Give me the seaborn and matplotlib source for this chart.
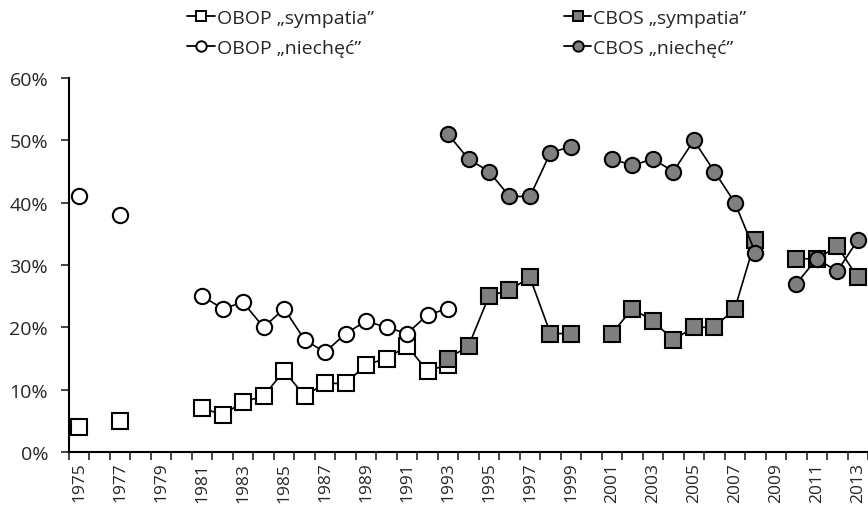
import numpy as np
import pandas as pd
import matplotlib
matplotlib.use("Agg")
import matplotlib.pyplot as plt
from matplotlib.lines import Line2D
from matplotlib.ticker import FuncFormatter, FixedLocator
import seaborn as sns

years = list(range(1975, 2014))

obop_sympatia = {1975: 4, 1977: 5, 1981: 7, 1982: 6, 1983: 8, 1984: 9, 1985: 13, 1986: 9,
                 1987: 11, 1988: 11, 1989: 14, 1990: 15, 1991: 17, 1992: 13, 1993: 14}
obop_niechec = {1975: 41, 1977: 38, 1981: 25, 1982: 23, 1983: 24, 1984: 20, 1985: 23, 1986: 18,
                1987: 16, 1988: 19, 1989: 21, 1990: 20, 1991: 19, 1992: 22, 1993: 23}
cbos_sympatia = {1993: 15, 1994: 17, 1995: 25, 1996: 26, 1997: 28, 1998: 19, 1999: 19,
                 2001: 19, 2002: 23, 2003: 21, 2004: 18, 2005: 20, 2006: 20, 2007: 23, 2008: 34,
                 2010: 31, 2011: 31, 2012: 33, 2013: 28}
cbos_niechec = {1993: 51, 1994: 47, 1995: 45, 1996: 41, 1997: 41, 1998: 48, 1999: 49,
                2001: 47, 2002: 46, 2003: 47, 2004: 45, 2005: 50, 2006: 45, 2007: 40, 2008: 32,
                2010: 27, 2011: 31, 2012: 29, 2013: 34}

series_labels = ["OBOP \u201esympatia\u201d", "OBOP \u201eniech\u0119\u0107\u201d",
                 "CBOS \u201esympatia\u201d", "CBOS \u201eniech\u0119\u0107\u201d"]
series_data = [obop_sympatia, obop_niechec, cbos_sympatia, cbos_niechec]
series_markers = ["s", "o", "s", "o"]
series_fill = ["white", "white", "#7f7f7f", "#7f7f7f"]

tick_years = list(range(1975, 2014, 2))


def to_frame(d):
    rows = []
    seg = 0
    prev = None
    for y in years:
        if y in d:
            if prev is None or y != prev + 1:
                seg += 1
            rows.append({"year": y, "value": d[y] / 100.0, "segment": seg})
            prev = y
    return pd.DataFrame(rows)


sns.set_style("white")
plt.rcParams["font.family"] = ["Open Sans", "DejaVu Sans"]

fig = plt.figure(figsize=(8.68, 5.10), dpi=100)
ax = fig.add_axes([69 / 868, 1 - 453 / 510, 1 - 69 / 868, (453 - 79) / 510])

handles = []
for lab, d, m, fc in zip(series_labels, series_data, series_markers, series_fill):
    df = to_frame(d)
    sns.lineplot(data=df, x="year", y="value", units="segment", estimator=None,
                 ax=ax, color="black", linewidth=1.2, marker=m, markersize=11,
                 markerfacecolor=fc, markeredgecolor="black", markeredgewidth=1.5,
                 legend=False, clip_on=False, zorder=3)
    handles.append(Line2D([0], [0], color="black", linewidth=1.3, marker=m, markersize=7.5,
                          markerfacecolor=fc, markeredgecolor="black", markeredgewidth=1.4,
                          label=lab))

ax.set_xlim(1974.5, 2013.5)
ax.set_ylim(0, 0.6)
ax.set_xlabel("")
ax.set_ylabel("")

ax.xaxis.set_major_locator(FixedLocator(tick_years))
ax.set_xticklabels([str(y) for y in tick_years], rotation=90)
ax.xaxis.set_minor_locator(FixedLocator([y - 0.5 for y in years] + [2013.5]))
ax.tick_params(axis="x", which="major", length=0, pad=7, labelsize=12.5)
ax.tick_params(axis="x", which="minor", length=6, width=1.2, direction="out", bottom=True)
ax.yaxis.set_major_locator(FixedLocator([0, 0.1, 0.2, 0.3, 0.4, 0.5, 0.6]))
ax.yaxis.set_major_formatter(FuncFormatter(lambda v, p: f"{v*100:.0f}%"))
ax.tick_params(axis="y", which="major", length=6, width=1.2, direction="out", left=True,
               labelsize=14, pad=9)

for s in ["top", "right"]:
    ax.spines[s].set_visible(False)
for s in ["left", "bottom"]:
    ax.spines[s].set_color("black")
    ax.spines[s].set_linewidth(1.5)

fig.legend(handles=handles, loc="upper center", bbox_to_anchor=(0.538, 1.015), ncol=2,
           frameon=False, fontsize=14, columnspacing=9.8, handlelength=1.4,
           handletextpad=0.1, labelspacing=0.6)

fig.savefig("out.png", dpi=100)
